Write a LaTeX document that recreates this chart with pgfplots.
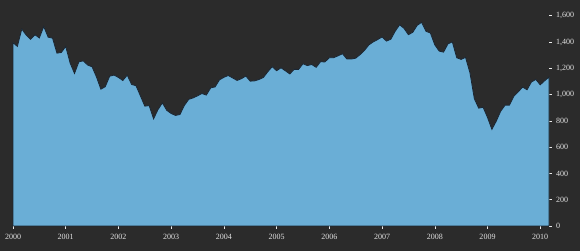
\documentclass[border=0pt]{standalone}
\usepackage{pgfplots}
\pgfplotsset{compat=1.18}
\usepackage{pgfplotstable}
\usepackage{fontspec}
\setmainfont{Liberation Serif}
\definecolor{bg}{HTML}{2B2B2B}
\definecolor{areafill}{HTML}{6AAED6}
\definecolor{arealine}{HTML}{1A2633}
\definecolor{txt}{HTML}{E2E2E2}
\pgfplotstableread{
m v
0 1394.46
1 1366.42
2 1498.58
3 1452.43
4 1420.60
5 1454.60
6 1430.83
7 1517.68
8 1436.51
9 1429.40
10 1314.95
11 1320.28
12 1366.01
13 1239.94
14 1160.33
15 1249.46
16 1255.82
17 1224.42
18 1211.23
19 1133.58
20 1040.94
21 1059.78
22 1139.45
23 1148.08
24 1130.20
25 1106.73
26 1147.39
27 1076.92
28 1067.14
29 989.82
30 911.62
31 916.07
32 815.28
33 885.76
34 936.31
35 879.82
36 855.70
37 841.15
38 848.18
39 916.92
40 963.59
41 974.50
42 990.31
43 1008.01
44 995.97
45 1050.71
46 1058.20
47 1111.92
48 1131.13
49 1144.94
50 1126.21
51 1107.30
52 1120.68
53 1140.84
54 1101.72
55 1104.24
56 1114.58
57 1130.20
58 1173.82
59 1211.92
60 1181.27
61 1203.60
62 1180.59
63 1156.85
64 1191.50
65 1191.33
66 1234.18
67 1220.33
68 1228.81
69 1207.01
70 1249.48
71 1248.29
72 1280.08
73 1280.66
74 1294.83
75 1310.61
76 1270.09
77 1270.20
78 1276.66
79 1303.82
80 1335.85
81 1377.94
82 1400.63
83 1418.30
84 1438.24
85 1406.82
86 1420.86
87 1482.37
88 1530.62
89 1503.35
90 1455.27
91 1473.99
92 1526.75
93 1549.38
94 1481.14
95 1468.36
96 1378.55
97 1330.63
98 1322.70
99 1385.59
100 1400.38
101 1280.00
102 1267.38
103 1282.83
104 1166.36
105 968.75
106 896.24
107 903.25
108 825.88
109 735.09
110 797.87
111 872.81
112 919.14
113 919.32
114 987.48
115 1020.62
116 1057.08
117 1036.19
118 1095.63
119 1115.10
120 1073.87
121 1104.49
122 1133.00
}\spx
\begin{document}
\begin{tikzpicture}
\path[use as bounding box, fill=bg] (-13pt,-25pt) rectangle (567pt,226pt);
\begin{axis}[
  at={(0pt,0pt)}, anchor=south west,
  scale only axis,
  width=536pt, height=210.3pt,
  xmin=0, xmax=122, ymin=0, ymax=1600,
  axis line style={draw=none},
  xtick={0,12,24,36,48,60,72,84,96,108,120},
  xticklabels={2000,2001,2002,2003,2004,2005,2006,2007,2008,2009,2010},
  ytick={0,200,400,600,800,1000,1200,1400,1600},
  yticklabel pos=right,
  ytick pos=right,
  xtick pos=bottom,
  tick align=outside,
  major tick length=2.5pt,
  tick style={draw=txt!70, line width=0.5pt},
  /pgf/number format/.cd, 1000 sep={,}, assume math mode=true,
  /pgfplots/.cd,
  ticklabel style={font=\fontsize{8}{9}\selectfont, text=txt},
  xticklabel style={inner sep=0pt, anchor=north, yshift=-5pt},
  yticklabel style={inner sep=0pt, anchor=west, xshift=4.5pt},
  clip=false,
]
\addplot[fill=areafill, draw=arealine, line width=0.8pt] table[x=m, y=v] {\spx} |- (axis cs:0,0) -- cycle;
\end{axis}
\end{tikzpicture}
\end{document}
